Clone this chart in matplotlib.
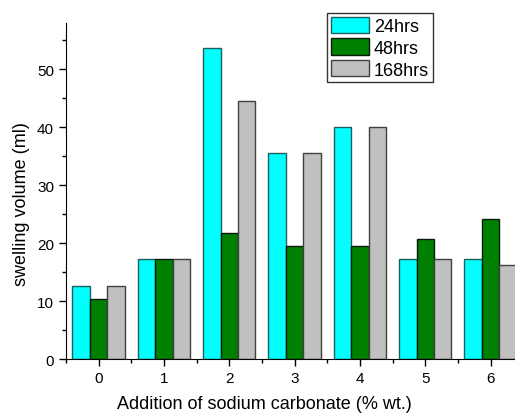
import numpy as np
import matplotlib
matplotlib.use("Agg")
import matplotlib.pyplot as plt
from matplotlib.ticker import MultipleLocator

plt.rcParams['font.family'] = ['Liberation Sans', 'DejaVu Sans']

categories = [0, 1, 2, 3, 4, 5, 6]
series_names = ['24hrs', '48hrs', '168hrs']
vals_24 = [12.7, 17.3, 53.7, 35.5, 40.0, 17.3, 17.3]
vals_48 = [10.4, 17.3, 21.8, 19.6, 19.6, 20.7, 24.1]
vals_168 = [12.7, 17.3, 44.6, 35.5, 40.0, 17.3, 16.2]

colors = ['#00FFFF', '#008000', '#C0C0C0']
edges = ['#1f5f5f', '#0a1a0a', '#404040']

fig = plt.figure(figsize=(5.15, 4.14), dpi=100)
ax = fig.add_axes([0.128, 0.130, 0.888, 0.812])

x = np.arange(len(categories))
w = 0.8 / 3
for i, (vals, c, ec, name) in enumerate(zip([vals_24, vals_48, vals_168], colors, edges, series_names)):
    ax.bar(x + (i - 1) * w, vals, width=w, color=c, edgecolor=ec, linewidth=1.0, label=name)

ax.set_xlim(-0.5, 6.5)
ax.set_ylim(0, 58)
ax.set_xticks(x)
ax.set_xticklabels([str(c) for c in categories])
ax.xaxis.set_minor_locator(MultipleLocator(0.5))
ax.yaxis.set_major_locator(MultipleLocator(10))
ax.yaxis.set_minor_locator(MultipleLocator(5))
ax.tick_params(axis='both', which='major', direction='out', length=5, width=1, labelsize=11)
ax.tick_params(axis='both', which='minor', direction='out', length=3, width=1)
ax.spines['top'].set_visible(False)
ax.spines['right'].set_visible(False)

ax.set_xlabel('Addition of sodium carbonate (% wt.)', fontsize=13)
ax.set_ylabel('swelling volume (ml)', fontsize=13)
# the figure is cropped on the right, so the labels sit left of the axes centre
ax.xaxis.set_label_coords(0.433, -0.107)
ax.yaxis.set_label_coords(-0.079, 0.464)

leg = ax.legend(loc='upper left', bbox_to_anchor=(0.571, 1.03), fontsize=13,
                frameon=True, fancybox=False, edgecolor='black',
                handlelength=2.1, handleheight=1.0, borderpad=0.2,
                labelspacing=0.2, handletextpad=0.3, borderaxespad=0)
leg.get_frame().set_linewidth(1.0)

fig.savefig('out.png', dpi=100)
